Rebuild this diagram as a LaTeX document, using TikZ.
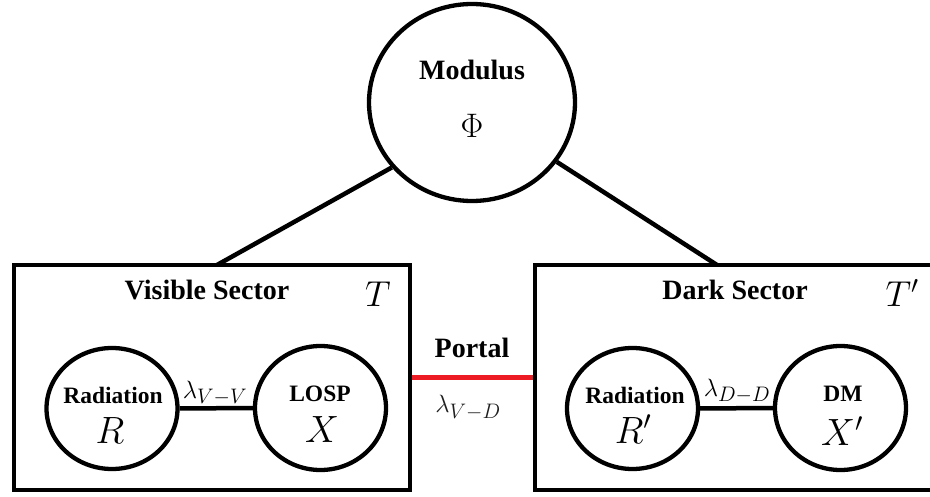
\RequirePackage{fix-cm}
\documentclass[tikz,border=0pt]{standalone}
\usepackage{fontspec}
\setmainfont{Liberation Serif}
\usetikzlibrary{shapes.geometric}
\DeclareMathSizes{25}{25}{21}{16}
\definecolor{portalred}{RGB}{237,28,36}
\tikzset{
  blob/.style={draw, ellipse, line width=4.3pt, inner sep=0pt},
  sectorbox/.style={draw, rectangle, line width=4.5pt, inner sep=0pt},
  link/.style={line width=4.5pt},
  heading/.style={anchor=base, inner sep=0pt, font=\fontsize{28}{30}\selectfont\bfseries},
  blobname/.style={anchor=base, inner sep=0pt, font=\fontsize{23.5}{26}\selectfont\bfseries},
  bigsym/.style={anchor=base, inner sep=0pt, font=\fontsize{38}{40}\selectfont},
  tempsym/.style={anchor=base, inner sep=0pt, font=\fontsize{36}{38}\selectfont},
  coupling/.style={anchor=base, inner sep=0pt, font=\fontsize{25}{27}\selectfont},
}
\begin{document}
\begin{tikzpicture}[x=1pt, y=-1pt]
  \useasboundingbox (0,0) rectangle (930,497);
  \clip (0,0) rectangle (930,497);

  % modulus field
  \node[blob, minimum width=206pt, minimum height=197pt] (mod) at (472,102.5) {};
  \node[heading] (modname) at (472,80) {Modulus};
  \node[anchor=base, inner sep=0pt, font=\fontsize{34}{36}\selectfont] (modsym) at (472,138) {$\Phi$};

  % the two sectors
  \node[sectorbox, minimum width=396pt, minimum height=225pt] (vbox) at (212,377.5) {};
  \node[sectorbox, minimum width=425pt, minimum height=225pt] (dbox) at (747.5,377.5) {};
  \coordinate (vtop) at (217,265);
  \coordinate (dtop) at (717,265);
  \draw[link] (mod.219) -- (vtop);
  \draw[link] (mod.325) -- (dtop);

  \node[heading] (vname) at (207,300) {Visible Sector};
  \node[heading] (dname) at (735,300) {Dark Sector};
  \node[tempsym] (vtemp) at (378,307) {$T$};
  \node[tempsym] (dtemp) at (902,307) {$T'$};

  % visible sector contents
  \node[blob, minimum width=131pt, minimum height=121pt] (vrad) at (112,408.5) {};
  \node[blob, minimum width=131pt, minimum height=124pt] (losp) at (320.5,408) {};
  \draw[link] (vrad) -- (losp);
  \node[blobname] (vradname) at (113,403) {Radiation};
  \node[bigsym] (vradsym) at (110,443) {$R$};
  \node[blobname] (lospname) at (320,402) {LOSP};
  \node[bigsym] (lospsym) at (322,442) {$X$};
  \node[coupling] (vv) at (215,398) {$\lambda_{V-V}$};

  % dark sector contents
  \node[blob, minimum width=131pt, minimum height=121pt] (drad) at (632.5,408.5) {};
  \node[blob, minimum width=131pt, minimum height=124pt] (dm) at (840.5,408) {};
  \draw[link] (drad) -- (dm);
  \node[blobname] (dradname) at (635,403) {Radiation};
  \node[bigsym] (dradsym) at (633,443) {$R'$};
  \node[blobname] (dmname) at (843,402) {DM};
  \node[bigsym] (dmsym) at (842,445) {$X'$};
  \node[coupling] (dd) at (737,396) {$\lambda_{D-D}$};

  % portal between sectors
  \draw[line width=5pt, portalred] (vbox.east) -- (dbox.west);
  \node[heading] (portal) at (472,358) {Portal};
  \node[coupling, text=black!88] (vd) at (468,413) {$\lambda_{V-D}$};
\end{tikzpicture}
\end{document}
